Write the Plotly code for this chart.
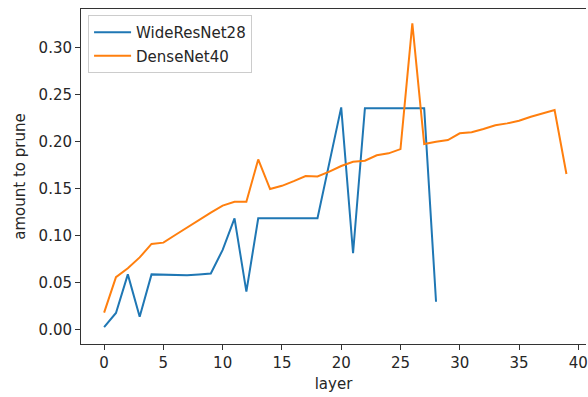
import plotly.graph_objects as go

# Per-layer pruning amounts for the two networks
wrn_layers = list(range(29))
wrn_amount = [0.003, 0.018, 0.059, 0.014, 0.059, 0.0585, 0.0588, 0.058, 0.059, 0.060,
              0.085, 0.1185, 0.0407, 0.1185, 0.1185, 0.1183, 0.1185, 0.1185, 0.1185, 0.177,
              0.2363, 0.0814, 0.2353, 0.2353, 0.2353, 0.2353, 0.2353, 0.2353, 0.030]

dn_layers = list(range(40))
dn_amount = [0.0184, 0.056, 0.0654, 0.077, 0.0913, 0.0927, 0.1008, 0.109, 0.1167, 0.1245,
             0.132, 0.136, 0.136, 0.181, 0.1496, 0.153, 0.158, 0.1634, 0.1630, 0.168,
             0.174, 0.1786, 0.1797, 0.1854, 0.1875, 0.192, 0.3255, 0.1974, 0.1998, 0.2016,
             0.2087, 0.2098, 0.2133, 0.2172, 0.2193, 0.2221, 0.2264, 0.2296, 0.2335, 0.1656]

x_ticks = [0, 5, 10, 15, 20, 25, 30, 35, 40]
y_ticks = [0.00, 0.05, 0.10, 0.15, 0.20, 0.25, 0.30]
y_tick_text = ["0.00", "0.05", "0.10", "0.15", "0.20", "0.25", "0.30"]

font_family = "DejaVu Sans"
text_color = "#262626"
fs = 15

fig = go.Figure()
fig.add_trace(go.Scatter(x=wrn_layers, y=wrn_amount, mode="lines", name="WideResNet28",
                         legendgroup="a", line=dict(color="#1f77b4", width=2)))
fig.add_trace(go.Scatter(x=dn_layers, y=dn_amount, mode="lines", name="DenseNet40",
                         legendgroup="b", line=dict(color="#ff7f0e", width=2)))

fig.update_layout(
    width=588, height=397,
    margin=dict(l=81, r=0, t=9, b=53),
    paper_bgcolor="white", plot_bgcolor="white",
    font=dict(family=font_family, size=fs, color=text_color),
    showlegend=True,
    legend=dict(x=0.014, y=0.982, xanchor="left", yanchor="top",
                bgcolor="rgba(255,255,255,0.8)", bordercolor="#cccccc", borderwidth=1,
                font=dict(size=fs, color=text_color), tracegroupgap=1,
                traceorder="grouped", itemwidth=37),
    xaxis=dict(range=[-1.95, 40.65], tickmode="array", tickvals=x_ticks,
               showgrid=False, zeroline=False, showline=True, linecolor="#333333",
               linewidth=1, mirror=True, ticks="outside", ticklen=5, tickcolor="#333333",
               tickfont=dict(size=fs, color=text_color), ticklabeloverflow="allow",
               title=dict(text="layer", font=dict(size=fs, color=text_color), standoff=7)),
    yaxis=dict(range=[-0.0149, 0.3407], tickmode="array", tickvals=y_ticks,
               ticktext=y_tick_text,
               showgrid=False, zeroline=False, showline=True, linecolor="#333333",
               linewidth=1, mirror=False, ticks="outside", ticklen=5, tickcolor="#333333",
               tickfont=dict(size=fs, color=text_color),
               title=dict(text="amount to prune", font=dict(size=fs, color=text_color),
                          standoff=9)),
)

fig.write_html("out.html")
